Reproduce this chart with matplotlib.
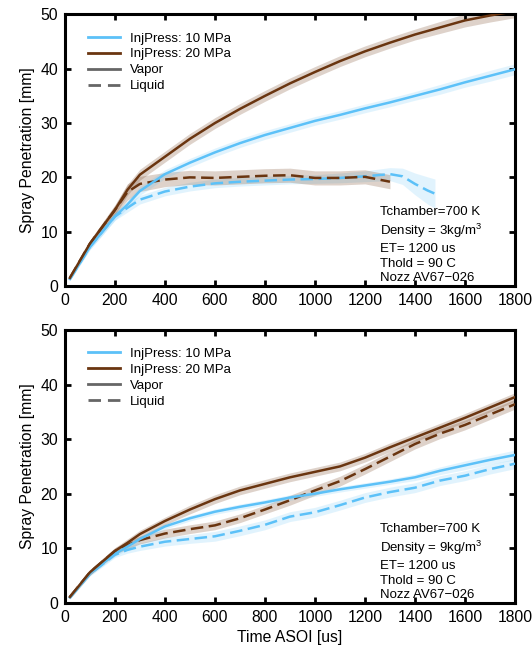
import numpy as np
import matplotlib
matplotlib.use("Agg")
import matplotlib.pyplot as plt
from matplotlib.lines import Line2D

plt.rcParams["font.family"] = ["Liberation Sans", "DejaVu Sans"]
plt.rcParams["mathtext.fontset"] = "custom"
plt.rcParams["mathtext.rm"] = "Liberation Sans"

BLUE = "#5cc1f8"
BROWN = "#6a3510"

# ---- top panel (density 3 kg/m3) ----
t_top = [20, 100, 200, 250, 300, 400, 500, 600, 700, 800, 900, 1000,
         1100, 1200, 1300, 1400, 1500, 1600, 1700, 1800]
top_vap_20 = [1.5, 7.8, 14.0, 17.7, 20.5, 23.8, 27.1, 30.0, 32.6, 35.0, 37.3, 39.4,
              41.4, 43.2, 44.8, 46.3, 47.6, 48.9, 49.8, 50.6]
top_vap_10 = [1.3, 7.2, 12.8, 15.0, 17.5, 20.6, 22.7, 24.6, 26.3, 27.8, 29.1, 30.4,
              31.5, 32.7, 33.8, 35.0, 36.2, 37.5, 38.7, 39.9]
top_vap_20_sd = [0.3, 0.6, 0.9, 1.0, 1.0, 1.0, 1.0, 1.0, 1.0, 1.0, 1.0, 1.0,
                 1.0, 1.0, 1.0, 1.0, 1.1, 1.2, 1.2, 1.2]
top_vap_10_sd = [0.3, 0.5, 0.7, 0.7, 0.8, 0.8, 0.8, 0.8, 0.8, 0.8, 0.8, 0.8,
                 0.8, 0.8, 0.8, 0.8, 0.9, 0.9, 1.0, 1.0]

t_top_liq_20 = [20, 100, 200, 250, 300, 400, 500, 600, 700, 800, 900, 1000, 1100, 1200, 1300]
top_liq_20 = [1.5, 7.8, 14.0, 17.3, 18.8, 19.6, 20.0, 19.9, 20.1, 20.3, 20.4, 19.9, 19.9, 20.1, 19.2]
top_liq_20_sd = [0.3, 0.6, 0.9, 1.5, 1.4, 1.3, 1.3, 1.3, 1.3, 1.3, 1.3, 1.3, 1.3, 1.3, 1.3]

t_top_liq_10 = [20, 100, 200, 250, 300, 400, 500, 600, 700, 800, 900, 1000, 1100,
                1200, 1300, 1350, 1400, 1450, 1480]
top_liq_10 = [1.3, 7.2, 12.8, 14.4, 15.9, 17.4, 18.3, 18.9, 19.2, 19.4, 19.6, 19.7, 19.9,
              20.2, 20.6, 20.2, 18.8, 17.6, 17.0]
top_liq_10_sd = [0.3, 0.5, 0.7, 0.8, 0.8, 0.8, 0.8, 0.8, 0.8, 0.8, 0.8, 0.8, 0.9,
                 1.0, 1.2, 1.5, 2.0, 2.5, 2.7]

# ---- bottom panel (density 9 kg/m3) ----
t_bot = [20, 100, 200, 250, 300, 400, 500, 600, 700, 800, 900, 1000,
         1100, 1200, 1300, 1400, 1500, 1600, 1700, 1800]
bot_vap_20 = [1.1, 5.6, 9.5, 11.0, 12.6, 15.0, 17.1, 19.0, 20.6, 21.8, 23.0, 24.0,
              25.0, 26.6, 28.5, 30.3, 32.1, 33.9, 35.8, 37.7]
bot_vap_10 = [1.0, 5.4, 9.0, 10.3, 11.7, 14.0, 15.5, 16.7, 17.6, 18.4, 19.3, 20.0,
              20.8, 21.5, 22.2, 23.0, 24.2, 25.2, 26.2, 27.1]
bot_liq_20 = [1.1, 5.6, 9.5, 10.6, 11.5, 12.7, 13.5, 14.2, 15.5, 17.1, 18.8, 20.6,
              22.3, 24.5, 26.8, 29.1, 31.0, 32.6, 34.5, 36.4]
bot_liq_10 = [1.0, 5.3, 8.8, 9.7, 10.3, 11.2, 11.7, 12.2, 13.2, 14.3, 15.8, 16.6,
              17.9, 19.3, 20.3, 21.1, 22.4, 23.3, 24.5, 25.5]
bot_vap_20_sd = [0.3, 0.5, 0.6, 0.7, 0.7, 0.7, 0.8, 0.8, 0.8, 0.8, 0.8, 0.8,
                 0.8, 0.8, 0.8, 0.8, 0.8, 0.8, 0.8, 0.8]
bot_vap_10_sd = [0.3, 0.4, 0.5, 0.5, 0.5, 0.5, 0.5, 0.5, 0.5, 0.5, 0.5, 0.5,
                 0.5, 0.5, 0.5, 0.6, 0.7, 0.8, 0.8, 0.9]
bot_liq_20_sd = [0.3, 0.5, 0.6, 0.7, 0.7, 0.8, 0.8, 0.8, 0.8, 0.8, 0.9, 0.9,
                 0.9, 0.9, 0.9, 0.9, 0.9, 0.9, 0.9, 0.9]
bot_liq_10_sd = [0.3, 0.4, 0.5, 0.6, 0.7, 0.8, 0.8, 0.9, 0.9, 0.9, 0.9, 0.9,
                 0.9, 0.9, 0.9, 0.9, 0.9, 0.9, 0.9, 0.9]

legend_labels = ["InjPress: 10 MPa", "InjPress: 20 MPa", "Vapor", "Liquid"]
info_top = ["Tchamber=700 K", "Density = 3kg/m$^3$", "ET= 1200 us", "Thold = 90 C", "Nozz AV67\u2212026"]
info_bot = ["Tchamber=700 K", "Density = 9kg/m$^3$", "ET= 1200 us", "Thold = 90 C", "Nozz AV67\u2212026"]

DASH = (5.0, 2.2)


def band(ax, t, y, sd, color, alpha):
    t = np.asarray(t, float)
    y = np.asarray(y, float)
    sd = np.asarray(sd, float)
    ax.fill_between(t, y - sd, y + sd, color=color, alpha=alpha, lw=0, zorder=1)


def trace(ax, t, y, sd, color, dashed, band_alpha):
    band(ax, t, y, sd, color, band_alpha)
    kw = dict(color=color, lw=1.8, zorder=3, solid_joinstyle="round")
    if dashed:
        ax.plot(t, y, dashes=DASH, **kw)
    else:
        ax.plot(t, y, **kw)


def style_axes(ax, info, show_xlabel):
    ax.set_xlim(0, 1800)
    ax.set_ylim(0, 50)
    ax.set_xticks(range(0, 1801, 200))
    ax.set_yticks(range(0, 51, 10))
    ax.tick_params(direction="in", top=True, right=True, length=4, width=2,
                   labelsize=11.3, pad=5)
    for s in ax.spines.values():
        s.set_linewidth(2.2)
    ax.set_ylabel("Spray Penetration [mm]", fontsize=11.3, labelpad=4)
    if show_xlabel:
        ax.set_xlabel("Time ASOI [us]", fontsize=11.3, labelpad=4)
    handles = [Line2D([], [], color=BLUE, lw=2),
               Line2D([], [], color=BROWN, lw=2),
               Line2D([], [], color="#666666", lw=2),
               Line2D([], [], color="#666666", lw=2, dashes=(4.5, 2.5))]
    ax.legend(handles, legend_labels, loc="upper left", frameon=False,
              fontsize=9.5, handlelength=2.4, handletextpad=0.8,
              labelspacing=0.28, bbox_to_anchor=(0.025, 0.978))
    ax.text(1262, 0.3, "\n".join(info), fontsize=9.5, linespacing=1.3,
            ha="left", va="bottom", zorder=5)


fig = plt.figure(figsize=(5.32, 6.56), dpi=100)
ax1 = fig.add_axes([0.122, 0.564, 0.846, 0.414])
ax2 = fig.add_axes([0.122, 0.081, 0.846, 0.416])

trace(ax1, t_top_liq_10, top_liq_10, top_liq_10_sd, BLUE, True, 0.18)
trace(ax1, t_top_liq_20, top_liq_20, top_liq_20_sd, BROWN, True, 0.22)
trace(ax1, t_top, top_vap_10, top_vap_10_sd, BLUE, False, 0.18)
trace(ax1, t_top, top_vap_20, top_vap_20_sd, BROWN, False, 0.22)
style_axes(ax1, info_top, False)

trace(ax2, t_bot, bot_liq_10, bot_liq_10_sd, BLUE, True, 0.18)
trace(ax2, t_bot, bot_liq_20, bot_liq_20_sd, BROWN, True, 0.22)
trace(ax2, t_bot, bot_vap_10, bot_vap_10_sd, BLUE, False, 0.18)
trace(ax2, t_bot, bot_vap_20, bot_vap_20_sd, BROWN, False, 0.22)
style_axes(ax2, info_bot, True)

fig.savefig("out.png", dpi=100)
